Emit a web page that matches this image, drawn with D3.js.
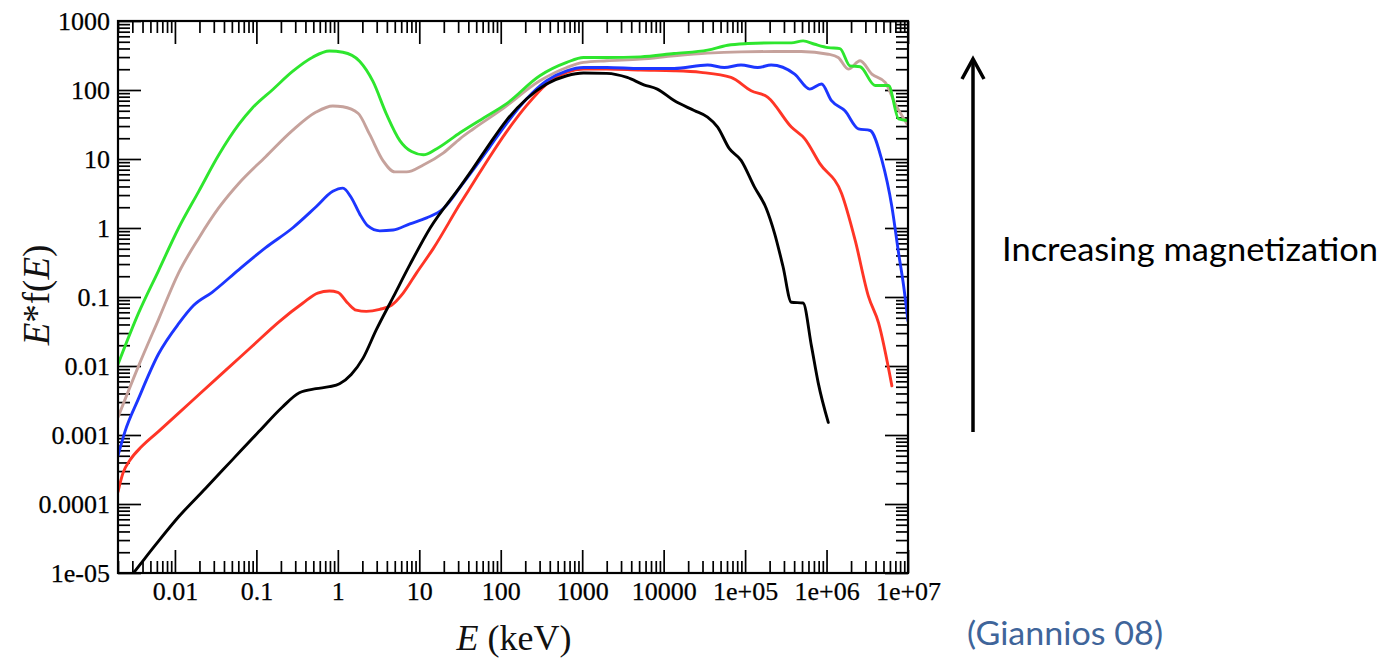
<!DOCTYPE html>
<html>
<head>
<meta charset="utf-8">
<script src="https://cdn.jsdelivr.net/npm/d3@7"></script>
<style>
  html, body { margin: 0; padding: 0; background: #ffffff; }
  svg { display: block; }
</style>
</head>
<body>
<svg id="chart" width="1394" height="661"></svg>
<script>
// ---------------- DATA ----------------
// Energy E (keV) and E*f(E) pairs, one array per curve
const seriesGreen = [
  [0.002, 0.0106], [0.00356, 0.0578], [0.00628, 0.24], [0.0111, 1.0], [0.0196, 3.4],
  [0.0346, 11.5], [0.0611, 31.9], [0.0893, 54.8], [0.158, 101], [0.278, 186],
  [0.491, 299], [0.789, 367], [1.153, 352], [1.85, 261], [2.70, 133],
  [3.95, 44.8], [5.77, 18.5], [8.04, 12.8], [11.2, 11.5], [16.4, 14.1],
  [31.6, 24], [63, 40], [117, 63], [302, 161], [646, 251], [1038, 296],
  [1995, 296], [5200, 302], [13430, 338], [34600, 378], [61100, 446],
  [107900, 471], [230000, 482], [370000, 482], [515000, 515], [718000, 460],
  [1.05e6, 412], [1.46e6, 398], [1.94e6, 224], [2.58e6, 217], [3.95e6, 116],
  [5.77e6, 116], [7.67e6, 38.2], [1e7, 36.1]
];
const seriesBrown = [
  [0.002, 0.00181], [0.00356, 0.00989], [0.00628, 0.0471], [0.0111, 0.224],
  [0.0196, 0.713], [0.0346, 1.97], [0.0611, 4.46], [0.130, 10.8], [0.278, 26.0],
  [0.541, 47.9], [0.867, 58.7], [1.153, 57.1], [1.77, 46.0], [2.46, 22.7],
  [3.60, 9.4], [5.01, 6.5], [6.98, 6.5], [11.2, 8.2], [19.8, 12.3], [31.8, 19.8],
  [45.5, 27], [100, 51], [302, 136], [646, 212], [1038, 251], [1995, 265],
  [5200, 280], [13430, 313], [34600, 342], [89100, 357], [230000, 361],
  [490000, 361], [1.05e6, 330], [1.39e6, 296], [1.85e6, 201], [2.58e6, 265],
  [3.6e6, 170], [5.25e6, 129], [6.98e6, 62.8], [1e7, 30.6]
];
const seriesBlue = [
  [0.002, 0.0005], [0.00244, 0.00113], [0.00356, 0.00334], [0.00628, 0.0149],
  [0.0111, 0.0411], [0.0170, 0.0759], [0.0286, 0.117], [0.0611, 0.25],
  [0.130, 0.52], [0.278, 1.0], [0.541, 2.03], [0.867, 3.40], [1.153, 3.78],
  [1.46, 2.77], [1.85, 1.61], [2.34, 1.07], [3.27, 0.91], [4.78, 0.935],
  [7.67, 1.15], [12.3, 1.40], [19.8, 1.92], [31.8, 3.9], [45.5, 6.87],
  [73.1, 14.9], [117, 32.4], [207, 74], [366, 136], [646, 190], [1038, 212],
  [1995, 212], [5200, 205], [13430, 205], [34600, 230], [55600, 212],
  [89100, 230], [143000, 212], [209000, 230], [406000, 170], [622000, 103],
  [867000, 122], [1.15e6, 70], [1.68e6, 50], [2.46e6, 27.4], [3.43e6, 25.9],
  [4.78e6, 9.6], [6.34e6, 2.03], [7.67e6, 0.43], [8.85e6, 0.143], [1e7, 0.0446]
];
const seriesRed = [
  [0.002, 0.00015], [0.0023, 0.00028], [0.0028, 0.00043], [0.0039, 0.00068],
  [0.0063, 0.00113], [0.0111, 0.00207], [0.0196, 0.00383], [0.0418, 0.00863],
  [0.0893, 0.0195], [0.191, 0.0441], [0.370, 0.0811], [0.566, 0.114], [0.789, 0.122],
  [1.0, 0.117], [1.33, 0.0811], [1.68, 0.0644], [2.24, 0.0618], [3.27, 0.0662],
  [4.55, 0.0759], [6.34, 0.114], [9.27, 0.224], [14.9, 0.507], [31.8, 2.26],
  [45.5, 4.41], [73.1, 10.7], [117, 24.5], [207, 59.4], [366, 122], [646, 180],
  [1038, 201], [1995, 201], [5200, 194], [13430, 190], [28600, 180], [67100, 152],
  [118600, 97.7], [190500, 78.3], [370000, 29.0], [541000, 19.6], [828000, 8.57],
  [1.53e6, 3.16], [2.24e6, 0.671], [3.27e6, 0.102], [4.35e6, 0.0422], [6.34e6, 0.00515]
];
const seriesBlack = [
  [0.002, 5.3e-6], [0.00309, 1e-5], [0.00571, 2.51e-5], [0.0111, 6.52e-5],
  [0.0237, 0.000168], [0.0506, 0.000436], [0.108, 0.00113], [0.209, 0.00255],
  [0.337, 0.00409], [0.541, 0.00469], [0.789, 0.00501], [1.05, 0.00552],
  [1.46, 0.00753], [2.04, 0.0130], [2.97, 0.0336], [4.78, 0.0995], [7.67, 0.294],
  [13.6, 1.0], [31.8, 3.98], [45.5, 7.26], [73.1, 16.6], [117, 36.1], [207, 74.1],
  [366, 122], [646, 161], [1038, 176], [1995, 174], [3560, 152], [5710, 119],
  [8360, 103], [13430, 70.2], [23700, 50.4], [34600, 40.4], [46000, 29.0],
  [64100, 14.1], [89300, 9.57], [130000, 3.94], [182000, 1.92], [230000, 0.838],
  [292000, 0.277], [370000, 0.0838], [515000, 0.0818], [653000, 0.0194],
  [789000, 0.00575], [1.05e6, 0.00152]
];

const xTickValues = [0.01, 0.1, 1, 10, 100, 1000, 10000, 1e5, 1e6, 1e7];
const xTickLabels = ["0.01", "0.1", "1", "10", "100", "1000", "10000", "1e+05", "1e+06", "1e+07"];
const yTickValues = [1e-5, 1e-4, 1e-3, 0.01, 0.1, 1, 10, 100, 1000];
const yTickLabels = ["1e-05", "0.0001", "0.001", "0.01", "0.1", "1", "10", "100", "1000"];

const seriesColors = ["#c6a29c", "#2ee62e", "#ff3526", "#1c36ff", "#000000"];
const seriesList = [seriesBrown, seriesGreen, seriesRed, seriesBlue, seriesBlack];

// ---------------- LAYOUT ----------------
const svg = d3.select("#chart");
const L = 118, T = 21, R = 908, B = 573;

const x = d3.scaleLog().domain([0.002, 1e7]).range([L, R]);
const y = d3.scaleLog().domain([1e-5, 1e3]).range([B, T]);

svg.append("rect").attr("width", 1394).attr("height", 661).attr("fill", "#ffffff");

// minor tick values (2..9 per decade)
function minors(domain) {
  const out = [];
  for (let d = -6; d <= 8; d++) {
    for (let m = 2; m <= 9; m++) {
      const v = m * Math.pow(10, d);
      if (v >= domain[0] * 0.999 && v <= domain[1] * 1.001) out.push(v);
    }
  }
  return out;
}
const xMinor = minors(x.domain());
const yMinor = minors(y.domain());

const serif = "'Liberation Serif', 'Times New Roman', Times, serif";

function styleAxis(g) {
  g.select(".domain").remove();
  g.selectAll(".tick line").attr("stroke", "#000").attr("stroke-width", 1.7);
  g.selectAll("text").attr("font-family", serif).attr("font-size", 26).attr("fill", "#000")
    .attr("stroke", "#000").attr("stroke-width", 0.25);
}

// bottom
svg.append("g").attr("transform", `translate(0,${B})`)
  .call(d3.axisBottom(x).tickValues(xMinor).tickSize(-12).tickFormat(""))
  .call(styleAxis);
svg.append("g").attr("transform", `translate(0,${B})`)
  .call(d3.axisBottom(x).tickValues(xTickValues).tickSize(-23).tickPadding(9)
        .tickFormat((d, i) => xTickLabels[i]))
  .call(styleAxis);
// top
svg.append("g").attr("transform", `translate(0,${T})`)
  .call(d3.axisTop(x).tickValues(xMinor).tickSize(-12).tickFormat(""))
  .call(styleAxis);
svg.append("g").attr("transform", `translate(0,${T})`)
  .call(d3.axisTop(x).tickValues(xTickValues).tickSize(-23).tickFormat(""))
  .call(styleAxis);
// left
svg.append("g").attr("transform", `translate(${L},0)`)
  .call(d3.axisLeft(y).tickValues(yMinor).tickSize(-12).tickFormat(""))
  .call(styleAxis);
svg.append("g").attr("transform", `translate(${L},0)`)
  .call(d3.axisLeft(y).tickValues(yTickValues).tickSize(-23).tickPadding(8)
        .tickFormat((d, i) => yTickLabels[i]))
  .call(styleAxis);
// right
svg.append("g").attr("transform", `translate(${R},0)`)
  .call(d3.axisRight(y).tickValues(yMinor).tickSize(-12).tickFormat(""))
  .call(styleAxis);
svg.append("g").attr("transform", `translate(${R},0)`)
  .call(d3.axisRight(y).tickValues(yTickValues).tickSize(-23).tickFormat(""))
  .call(styleAxis);

// clip
svg.append("defs").append("clipPath").attr("id", "plotclip")
  .append("rect").attr("x", L).attr("y", T).attr("width", R - L).attr("height", B - T);

const line = d3.line()
  .x(d => x(d[0]))
  .y(d => y(d[1]))
  .curve(d3.curveMonotoneX);

const curves = svg.append("g").attr("clip-path", "url(#plotclip)");
seriesList.forEach((s, i) => {
  curves.append("path")
    .datum(s)
    .attr("d", line)
    .attr("fill", "none")
    .attr("stroke", seriesColors[i])
    .attr("stroke-width", 2.9)
    .attr("stroke-linejoin", "round")
    .attr("stroke-linecap", "round");
});

// frame
svg.append("rect").attr("x", L).attr("y", T).attr("width", R - L).attr("height", B - T)
  .attr("fill", "none").attr("stroke", "#000").attr("stroke-width", 2.2);

// axis titles
const xt = svg.append("text")
  .attr("x", 514).attr("y", 650)
  .attr("text-anchor", "middle")
  .attr("font-family", serif).attr("font-size", 36).attr("fill", "#111");
xt.append("tspan").attr("font-style", "italic").text("E");
xt.append("tspan").text(" (keV)");

const yt = svg.append("text")
  .attr("transform", "translate(49,295) rotate(-90)")
  .attr("text-anchor", "middle")
  .attr("font-family", serif).attr("font-size", 37).attr("fill", "#111");
yt.append("tspan").attr("font-style", "italic").text("E");
yt.append("tspan").text("*f(");
yt.append("tspan").attr("font-style", "italic").text("E");
yt.append("tspan").text(")");

// annotation arrow
svg.append("line")
  .attr("x1", 973).attr("y1", 432).attr("x2", 973).attr("y2", 60)
  .attr("stroke", "#000").attr("stroke-width", 3.5);
svg.append("path")
  .attr("d", "M962,79 L973,59 L984,79")
  .attr("fill", "none").attr("stroke", "#000").attr("stroke-width", 3.5)
  .attr("stroke-linejoin", "miter");

const sans = "Lato, 'Open Sans', 'Noto Sans', sans-serif";
svg.append("text")
  .attr("x", 1002).attr("y", 261)
  .attr("font-family", sans).attr("font-size", 33).attr("fill", "#000")
  .attr("textLength", 376).attr("lengthAdjust", "spacingAndGlyphs")
  .text("Increasing magnetization");

svg.append("text")
  .attr("x", 967).attr("y", 645)
  .attr("font-family", sans).attr("font-size", 33).attr("fill", "#3f659a")
  .attr("textLength", 196).attr("lengthAdjust", "spacingAndGlyphs")
  .text("(Giannios 08)");
</script>
</body>
</html>
